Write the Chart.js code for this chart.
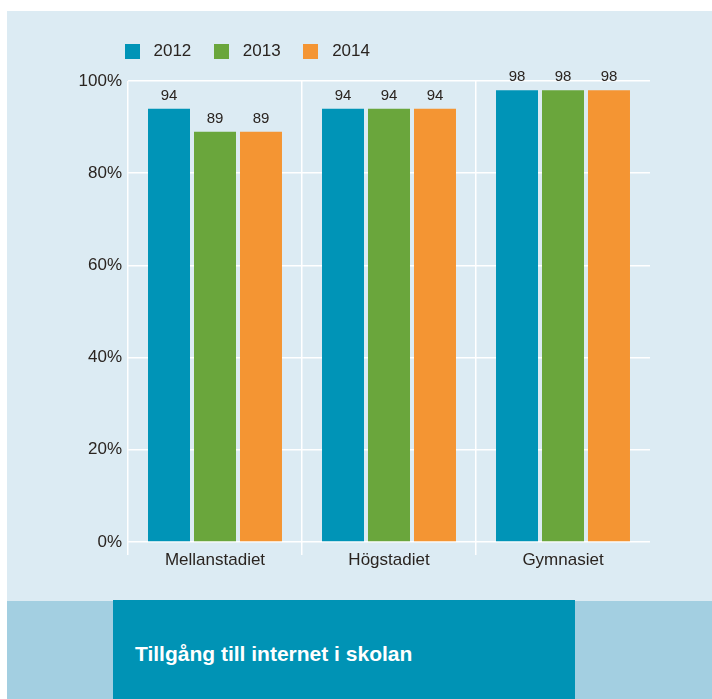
<!DOCTYPE html>
<html lang="sv">
<head>
<meta charset="utf-8">
<title>Tillgång till internet i skolan</title>
<script src="https://cdn.jsdelivr.net/npm/chart.js@4/dist/chart.umd.min.js"></script>
<style>
  html, body { margin: 0; padding: 0; background: #fff; width: 712px; height: 699px; overflow: hidden; }
  #panel { position: absolute; left: 7px; top: 11px; right: 0; bottom: 0; background: #dcebf3; }
  #band { position: absolute; left: 7px; top: 601px; right: 0; bottom: 0; background: #a3cfe1; }
  #titlebox { position: absolute; left: 113px; top: 600px; width: 462px; bottom: 0; background: #0093b5; }
  #titlebox h1 { margin: 0; padding: 42px 0 0 22px; font: bold 21px/24px 'Liberation Sans', Arial, sans-serif; color: #fff; }
  #wrap { position: absolute; left: 0; top: 0; width: 712px; height: 600px; }
</style>
</head>
<body>
<div id="panel"></div>
<div id="band"></div>
<div id="titlebox"><h1>Tillgång till internet i skolan</h1></div>
<div id="wrap"><canvas id="chart"></canvas></div>
<script>
// Data
const categories = ['Mellanstadiet', 'Högstadiet', 'Gymnasiet'];
const years = ['2012', '2013', '2014'];
const values2012 = [94, 94, 98];
const values2013 = [89, 94, 98];
const values2014 = [89, 94, 98];
const colors = ['#0094b7', '#6aa63c', '#f49533'];
const textColor = '#2a2420';

Chart.defaults.font.family = "'Liberation Sans', Arial, sans-serif";
Chart.defaults.color = textColor;

// square legend swatch, drawn as a point style so the text gap can be wider
function swatch(color) {
    const c = document.createElement('canvas');
    c.width = 15;
    c.height = 15;
    const g = c.getContext('2d');
    g.fillStyle = color;
    g.fillRect(0, 0, 15, 15);
    return c;
}

// more room under the legend, and legend starts at x=102
const legendGap = {
    id: 'legendGap',
    beforeInit(chart) {
        const fit = chart.legend.fit;
        chart.legend.fit = function () {
            fit.call(this);
            this.height += 11;
        };
    },
    afterLayout(chart) {
        chart.legend.left = 102;
    }
};

// numbers above the bars
const valueLabels = {
    id: 'valueLabels',
    afterDatasetsDraw(chart) {
        const ctx = chart.ctx;
        ctx.save();
        ctx.font = "15px 'Liberation Sans', Arial, sans-serif";
        ctx.fillStyle = textColor;
        ctx.textAlign = 'center';
        ctx.textBaseline = 'middle';
        chart.data.datasets.forEach((ds, i) => {
            chart.getDatasetMeta(i).data.forEach((bar, j) => {
                ctx.fillText(ds.data[j], bar.x, bar.y - 13);
            });
        });
        ctx.restore();
    }
};

new Chart(document.getElementById('chart').getContext('2d'), {
    type: 'bar',
    data: {
        labels: categories,
        datasets: [
            { label: years[0], data: values2012, backgroundColor: colors[0] },
            { label: years[1], data: values2013, backgroundColor: colors[1] },
            { label: years[2], data: values2014, backgroundColor: colors[2] }
        ]
    },
    options: {
        responsive: true,
        maintainAspectRatio: false,
        animation: false,
        categoryPercentage: 0.793,
        barPercentage: 0.913,
        layout: { padding: { left: 40, right: 62, top: 26, bottom: 0 } },
        plugins: {
            tooltip: { enabled: false },
            legend: {
                position: 'top',
                align: 'start',
                labels: {
                    font: { size: 17 },
                    color: textColor,
                    padding: 17,
                    usePointStyle: true,
                    pointStyleWidth: 26,
                    generateLabels: chart => chart.data.datasets.map((ds, i) => ({
                        text: ds.label,
                        fillStyle: ds.backgroundColor,
                        strokeStyle: ds.backgroundColor,
                        lineWidth: 0,
                        pointStyle: swatch(ds.backgroundColor),
                        hidden: false,
                        fontColor: textColor,
                        datasetIndex: i
                    }))
                }
            }
        },
        scales: {
            x: {
                offset: true,
                border: { display: false },
                grid: {
                    offset: true,
                    color: ctx => ctx.index === undefined ? 'rgba(0,0,0,0)' : '#ffffff',
                    lineWidth: 1.5,
                    tickLength: 13
                },
                ticks: { font: { size: 17 }, color: textColor, padding: -5 },
                afterFit(scale) { scale.height = 58; }
            },
            y: {
                min: 0,
                max: 100,
                border: { display: false },
                grid: { color: '#ffffff', lineWidth: 1.5, drawTicks: false },
                ticks: {
                    stepSize: 20,
                    font: { size: 17 },
                    color: textColor,
                    padding: 6,
                    callback: v => v + '%'
                },
                afterFit(scale) { scale.width = 88; }
            }
        }
    },
    plugins: [legendGap, valueLabels]
});
</script>
</body>
</html>
